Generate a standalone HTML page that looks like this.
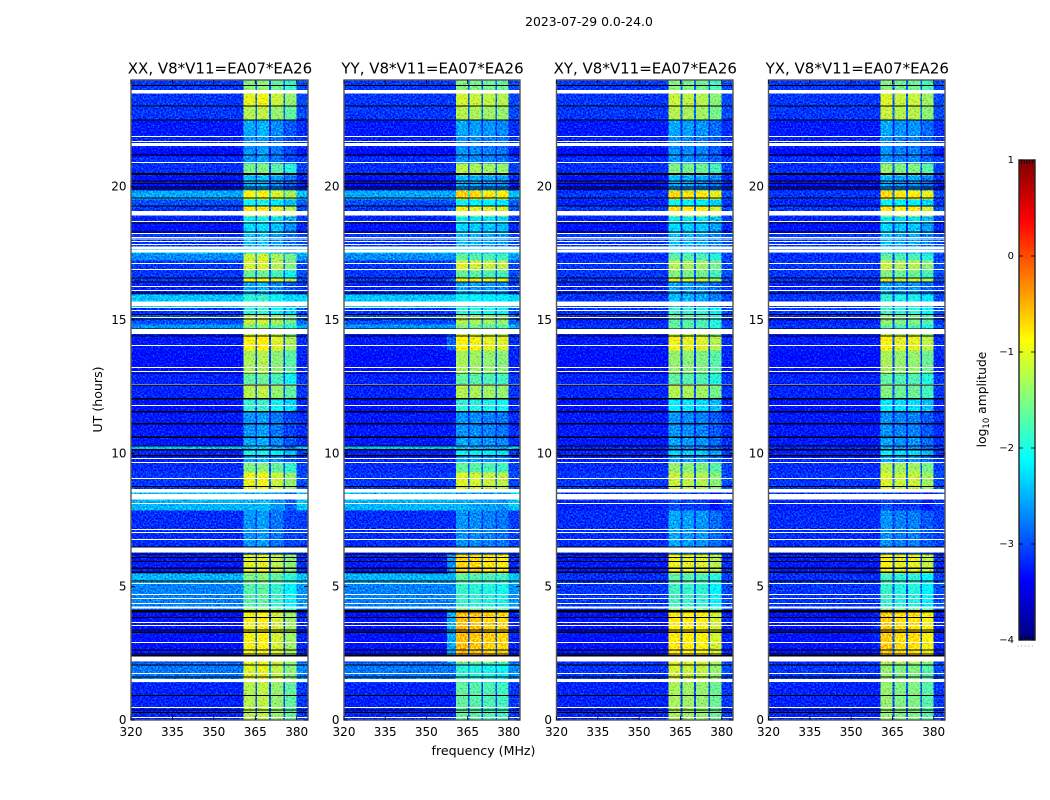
<!DOCTYPE html>
<html lang="en">
<head>
<meta charset="utf-8">
<title>2023-07-29 waterfall</title>
<style>
  html,body{margin:0;padding:0;background:#fff;}
  body{width:1050px;height:800px;overflow:hidden;}
  svg{display:block;font-family:"DejaVu Sans","Liberation Sans",sans-serif;fill:#000;}
</style>
</head>
<body>
<svg id="figure" xmlns="http://www.w3.org/2000/svg" width="1050" height="800" viewBox="0 0 1050 800">
  <defs>
    <filter id="speckle" filterUnits="userSpaceOnUse" x="0" y="0" width="1050" height="800" color-interpolation-filters="sRGB">
      <feTurbulence type="fractalNoise" baseFrequency="0.6" numOctaves="1" seed="7" result="n"/>
      <feColorMatrix in="n" type="matrix" values="0 0 0 0 0.5  1 0 0 0 0  0.3 0 0 0 0.35  0 0 0 0 1" result="mono"/>
      <feComposite in="SourceGraphic" in2="mono" operator="arithmetic" k1="0" k2="1" k3="1.3" k4="-0.65" result="mix"/>
      <feComposite in="mix" in2="SourceGraphic" operator="in"/>
    </filter>
    <linearGradient id="jet-gradient" x1="0" y1="1" x2="0" y2="0"></linearGradient>
  </defs>
  <rect x="0" y="0" width="1050" height="800" fill="#fff"/>
  <text x="589" y="26" font-size="12.4" text-anchor="middle">2023-07-29 0.0-24.0</text>
  <text x="483.5" y="755" font-size="12.6" text-anchor="middle">frequency (MHz)</text>
  <text transform="translate(102,399.5) rotate(-90)" font-size="12.6" text-anchor="middle">UT (hours)</text>
  <text transform="translate(986,399.5) rotate(-90)" font-size="12.3" text-anchor="middle">log<tspan dy="3" font-size="8.5">10</tspan><tspan dy="-3"> amplitude</tspan></text>
  <g id="panels"></g>
  <g id="colorbar"></g>
</svg>
<script>
/* ---- chart data ---- */
const panelNames = ["XX", "YY", "XY", "YX"];
const baselineName = "V8*V11=EA07*EA26";
const freqTicks = [320, 335, 350, 365, 380];
const utTicks = [0, 5, 10, 15, 20];
const colorTicks = [1, 0, -1, -2, -3, -4];
const freqLimits = [320, 384.1];
const utLimits = [0, 24];
const colorLimits = [-4, 1];

/* sub-band edges in MHz */
const subbandEdges = [[360.7, 365.1], [365.7, 370.0], [370.7, 375.2], [375.8, 380.0]];

/* UT edges of the time segments, hours */
const segmentEdges = [0, 1.425, 2.175, 4.16, 5.175, 5.51, 6.26, 7.875, 8.25, 8.66, 9.3, 9.675, 9.9, 10.125, 10.275, 10.61, 11.1, 11.55, 12.04, 12.56, 13.01, 13.875, 14.475, 14.7, 14.85, 15.19, 15.49, 15.975, 16.425, 16.575, 16.875, 17.25, 17.51, 17.775, 18.26, 18.6, 18.9, 19.275, 19.54, 19.875, 20.21, 20.44, 20.89, 21.15, 21.45, 21.9, 22.5, 23.025, 23.51, 23.81, 24];

/* log10 amplitude outside the sub-bands */
const backgroundParallel = [-3.22, -2.8, -3.32, -2.75, -2.5, -3.27, -3.17, -2.5, -2.45, -3.12, -3.17, -3.22, -3.22, -2.45, -3.27, -3.27, -3.27, -3.32, -3.22, -3.22, -3.32, -3.27, -3.22, -2.65, -3.0, -3.12, -2.4, -3.22, -3.12, -3.12, -3.12, -2.7, -2.45, -3.12, -3.32, -3.22, -3.12, -3.0, -2.55, -3.32, -3.32, -3.17, -3.17, -3.4, -3.22, -3.27, -3.12, -3.12, -3.12, -3.12];
const backgroundCross = [-3.22, -3.12, -3.32, -3.12, -3.17, -3.27, -3.17, -3.22, -3.12, -3.12, -3.17, -3.22, -3.22, -3.22, -3.27, -3.27, -3.27, -3.32, -3.22, -3.22, -3.32, -3.27, -3.22, -3.12, -3.22, -3.12, -3.12, -3.22, -3.12, -3.12, -3.12, -3.17, -3.02, -3.12, -3.32, -3.22, -3.12, -3.22, -3.12, -3.32, -3.32, -3.17, -3.17, -3.4, -3.22, -3.27, -3.12, -3.12, -3.12, -3.12];

/* log10 amplitude in the first sub-band, one array per correlation */
const bandXX = [-1.25, -1.05, -0.95, -1.7, -1.5, -1.05, -2.65, -2.5, -2.55, -1.0, -1.5, -2.55, -2.05, -2.45, -2.55, -2.65, -2.65, -1.9, -1.25, -1.65, -1.3, -0.9, -1.5, -1.5, -1.15, -1.9, -1.9, -2.55, -0.9, -1.65, -1.1, -1.15, -2.3, -2.45, -2.3, -2.15, -0.85, -2.05, -0.9, -2.55, -2.45, -1.55, -2.65, -2.65, -2.65, -2.55, -1.25, -1.0, -1.45, -1.5];
const bandYY = [-1.65, -1.9, -0.55, -1.85, -1.65, -0.67, -2.65, -2.5, -2.55, -1.05, -1.65, -2.55, -2.05, -2.45, -2.55, -2.65, -2.65, -1.9, -1.25, -1.65, -1.3, -0.9, -1.5, -1.5, -1.25, -1.9, -2.05, -2.55, -0.9, -1.65, -1.05, -1.65, -2.3, -2.45, -2.3, -2.15, -0.95, -2.05, -0.65, -2.55, -2.45, -1.25, -2.65, -2.65, -2.65, -2.55, -1.25, -1.1, -1.45, -1.5];
const bandXY = [-1.3, -1.1, -0.8, -1.8, -1.65, -0.95, -2.55, -3.0, -3.0, -1.15, -1.4, -2.55, -2.3, -2.65, -2.55, -2.65, -2.65, -2.15, -1.25, -1.65, -1.4, -0.95, -1.65, -1.65, -1.65, -1.8, -2.45, -2.55, -1.05, -1.5, -1.25, -1.65, -2.3, -2.45, -2.3, -2.15, -0.8, -2.05, -0.7, -2.55, -2.45, -1.5, -2.65, -2.65, -2.65, -2.55, -1.25, -1.15, -1.45, -1.5];
const bandYX = [-1.4, -1.4, -0.63, -1.85, -1.8, -0.9, -2.65, -3.0, -3.0, -1.05, -1.25, -2.55, -2.15, -2.55, -2.55, -2.65, -2.65, -2.15, -1.5, -1.65, -1.3, -0.9, -1.65, -1.65, -1.4, -1.8, -1.9, -2.55, -1.05, -1.5, -1.15, -1.65, -2.3, -2.45, -2.3, -2.15, -0.8, -2.05, -0.7, -2.55, -2.45, -1.4, -2.65, -2.65, -2.65, -2.55, -1.15, -1.05, -1.45, -1.5];

/* level change of sub-bands 1-4 relative to the first, per correlation */
const subbandTiltXX = [0, 0.05, -0.15, -0.4];
const subbandTiltYY = [0, -0.05, -0.1, -0.15];
const subbandTiltXY = [0, -0.05, -0.1, -0.3];
const subbandTiltYX = [0, -0.1, -0.1, -0.3];

/* drop from band level to the shoulder just below the first sub-band */
const shoulderDrop = [2.6, 2.0, 2.6, 2.6];

/* flagged (blank) and zero-valued (black) time ranges, hours */
const blankRows = [[0.075,0.11],[0.45,0.49],[1.425,1.54],[1.725,1.76],[2.19,2.375],[2.89,2.925],[3.525,3.56],[3.64,3.675],[4.175,4.25],[4.35,4.39],[4.54,4.575],[4.69,4.725],[5.1,5.14],[6.275,6.46],[6.75,6.79],[7.01,7.05],[7.125,7.16],[8.1,8.14],[8.275,8.475],[8.54,8.66],[9.04,9.075],[9.64,9.675],[9.79,9.825],[11.775,11.81],[12.56,12.6],[13.05,13.09],[13.2,13.24],[14.025,14.06],[14.475,14.66],[15.075,15.11],[15.34,15.375],[15.45,15.49],[15.525,15.7],[16.09,16.125],[16.24,16.275],[16.875,16.91],[17.1,17.14],[17.525,17.625],[17.65,17.75],[17.81,17.85],[17.925,17.96],[18.02,18.06],[18.075,18.11],[18.225,18.26],[18.675,18.71],[18.91,19.09],[20.89,20.925],[21.525,21.64],[21.675,21.71],[21.86,21.9],[23.5,23.625]];
const blackRows = [[0.26,0.3],[0.36,0.4],[0.9,0.94],[1.6,1.64],[2.04,2.08],[2.39,2.43],[2.46,2.5],[2.61,2.65],[3.27,3.31],[3.36,3.4],[3.83,3.87],[4.04,4.13],[5.2,5.23],[5.52,5.56],[5.67,5.71],[5.92,5.96],[6.08,6.12],[6.2,6.24],[6.46,6.5],[8.73,8.77],[9.88,9.93],[10.11,10.16],[10.26,10.3],[10.57,10.63],[11.08,11.13],[11.54,11.59],[12.02,12.08],[12.54,12.58],[12.97,13.0],[14.38,14.42],[14.66,14.69],[15.01,15.05],[15.18,15.22],[15.99,16.03],[16.41,16.45],[16.56,16.6],[18.28,18.32],[18.62,18.65],[19.26,19.3],[19.55,19.59],[19.9,19.93],[19.97,20.0],[20.1,20.14],[20.19,20.23],[20.44,20.51],[21.16,21.2],[22.48,22.52],[23.01,23.05],[23.77,23.81]];

/* ---- layout ---- */
const SVGNS = "http://www.w3.org/2000/svg";
const panelLeft = [131, 344, 556.5, 768.5];
const panelSpan = [177, 176, 176.5, 176.5];
const plotTop = 80;
const plotBottom = 720;
const barLeft = 1019, barRight = 1035, barTop = 160, barBottom = 640;

function xAxis(panel, freq) {
  return panelLeft[panel] + (freq - freqLimits[0]) / (freqLimits[1] - freqLimits[0]) * panelSpan[panel];
}
function yAxis(hours) {
  return plotBottom - (hours - utLimits[0]) / (utLimits[1] - utLimits[0]) * (plotBottom - plotTop);
}
function colorAxis(value) {
  return barBottom - (value - colorLimits[0]) / (colorLimits[1] - colorLimits[0]) * (barBottom - barTop);
}
function clip01(v) { return Math.max(0, Math.min(1, v)); }
function jet(t) {
  const r = clip01(1.5 - Math.abs(4 * t - 3));
  const g = clip01(1.5 - Math.abs(4 * t - 2));
  const b = clip01(1.5 - Math.abs(4 * t - 1));
  return "rgb(" + Math.round(r * 255) + "," + Math.round(g * 255) + "," + Math.round(b * 255) + ")";
}
function levelColor(level) {
  return jet(clip01((level - colorLimits[0]) / (colorLimits[1] - colorLimits[0])));
}
function shape(tag, parent, attrs) {
  const el = document.createElementNS(SVGNS, tag);
  for (const k in attrs) el.setAttribute(k, attrs[k]);
  parent.appendChild(el);
  return el;
}

const panelsRoot = document.getElementById("panels");
const bandByPanel = [bandXX, bandYY, bandXY, bandYX];
const backgroundByPanel = [backgroundParallel, backgroundParallel, backgroundCross, backgroundCross];
const tiltByPanel = [subbandTiltXX, subbandTiltYY, subbandTiltXY, subbandTiltYX];

function drawCell(group, panel, f0, f1, h0, h1, level) {
  const x0 = xAxis(panel, f0), x1 = xAxis(panel, f1);
  const y0 = yAxis(h1), y1 = yAxis(h0);
  const el = shape("rect", group, {x: x0, y: y0, width: x1 - x0 + 0.4, height: y1 - y0 + 0.4, fill: levelColor(level), "shape-rendering": "crispEdges"});
  
  
}

panelNames.forEach(function (name, p) {
  const panel = shape("g", panelsRoot, {});
  
  

  const heat = shape("g", panel, {filter: "url(#speckle)"});
  
  

  for (let s = 0; s < segmentEdges.length - 1; s++) {
    const h0 = segmentEdges[s], h1 = segmentEdges[s + 1];
    const bg = backgroundByPanel[p][s];
    const band = bandByPanel[p][s];
    const shoulderStart = subbandEdges[0][0] - 3.2;
    drawCell(heat, p, freqLimits[0], shoulderStart, h0, h1, bg);
    drawCell(heat, p, shoulderStart, subbandEdges[0][0], h0, h1, Math.max(bg, band - shoulderDrop[p]));
    subbandEdges.forEach(function (edge, b) {
      drawCell(heat, p, edge[0], edge[1], h0, h1, band + tiltByPanel[p][b]);
      const next = b < subbandEdges.length - 1 ? subbandEdges[b + 1][0] : freqLimits[1];
      const gapLevel = b < subbandEdges.length - 1 ? bg + 0.12 * (band - bg) : bg + 0.1;
      drawCell(heat, p, edge[1], next, h0, h1, gapLevel);
    });
  }

  blankRows.forEach(function (r) {
    const el = shape("rect", panel, {x: panelLeft[p], y: yAxis(r[1]), width: panelSpan[p], height: yAxis(r[0]) - yAxis(r[1]), fill: "#fff", "shape-rendering": "crispEdges"});
    
    
  });
  blackRows.forEach(function (r) {
    const el = shape("rect", panel, {x: panelLeft[p], y: yAxis(r[1]), width: panelSpan[p], height: yAxis(r[0]) - yAxis(r[1]), fill: "#000", "shape-rendering": "crispEdges"});
    
    
  });

  const frame = shape("rect", panel, {x: panelLeft[p], y: plotTop, width: panelSpan[p], height: plotBottom - plotTop, fill: "none", stroke: "#555", "stroke-width": 1.4});
  
  

  const title = shape("text", panel, {x: panelLeft[p] + panelSpan[p] / 2 + 0.5, y: 73.5, "font-size": 15, "text-anchor": "middle"});
  title.textContent = name + ", " + baselineName;
  
  

  freqTicks.forEach(function (f) {
    const x = xAxis(p, f);
    const bottomTick = shape("line", panel, {x1: x, x2: x, y1: plotBottom, y2: plotBottom - 4, stroke: "#000", "stroke-width": 0.8});
    
    
    const topTick = shape("line", panel, {x1: x, x2: x, y1: plotTop, y2: plotTop + 4, stroke: "#000", "stroke-width": 0.8});
    
    
    const label = shape("text", panel, {x: x, y: 736, "font-size": 12, "text-anchor": "middle"});
    label.textContent = f;
    
    
  });

  utTicks.forEach(function (h) {
    const y = yAxis(h);
    const leftTick = shape("line", panel, {x1: panelLeft[p], x2: panelLeft[p] + 4, y1: y, y2: y, stroke: "#000", "stroke-width": 0.8});
    
    
    const rightTick = shape("line", panel, {x1: panelLeft[p] + panelSpan[p], x2: panelLeft[p] + panelSpan[p] - 4, y1: y, y2: y, stroke: "#000", "stroke-width": 0.8});
    
    
    const label = shape("text", panel, {x: panelLeft[p] - 4.5, y: y + 4, "font-size": 12, "text-anchor": "end"});
    label.textContent = h;
    
    
  });
});

/* ---- colorbar ---- */
const gradient = document.getElementById("jet-gradient");
for (let i = 0; i <= 64; i++) {
  shape("stop", gradient, {offset: (i / 64), "stop-color": jet(i / 64)});
}
const barRoot = document.getElementById("colorbar");
const barRect = shape("rect", barRoot, {x: barLeft, y: barTop, width: barRight - barLeft, height: barBottom - barTop, fill: "url(#jet-gradient)", stroke: "#222", "stroke-width": 1.4});



colorTicks.forEach(function (v) {
  const y = colorAxis(v);
  const leftTick = shape("line", barRoot, {x1: barLeft, x2: barLeft + 4, y1: y, y2: y, stroke: "#000", "stroke-width": 0.8});
  
  
  const rightTick = shape("line", barRoot, {x1: barRight, x2: barRight - 4, y1: y, y2: y, stroke: "#000", "stroke-width": 0.8});
  
  
  const label = shape("text", barRoot, {x: barLeft - 5, y: y + 3, "font-size": 10, "text-anchor": "end"});
  label.textContent = String(v).replace("-", "\u2212");
  
  
});
for (let i = 1; i <= 5; i++) {
  const x = barLeft + i * (barRight - barLeft) / 6;
  const topMinor = shape("line", barRoot, {x1: x, x2: x, y1: barTop, y2: barTop + 4, stroke: "#000", "stroke-width": 0.7});
  
  
  const bottomMinor = shape("line", barRoot, {x1: x, x2: x, y1: barBottom, y2: barBottom - 4, stroke: "#000", "stroke-width": 0.7});
  
  
}
const dots = shape("line", barRoot, {x1: 1017.5, x2: 1035, y1: 646, y2: 646, stroke: "#999", "stroke-width": 1, "stroke-dasharray": "1 2.6"});


</script>
</body>
</html>
